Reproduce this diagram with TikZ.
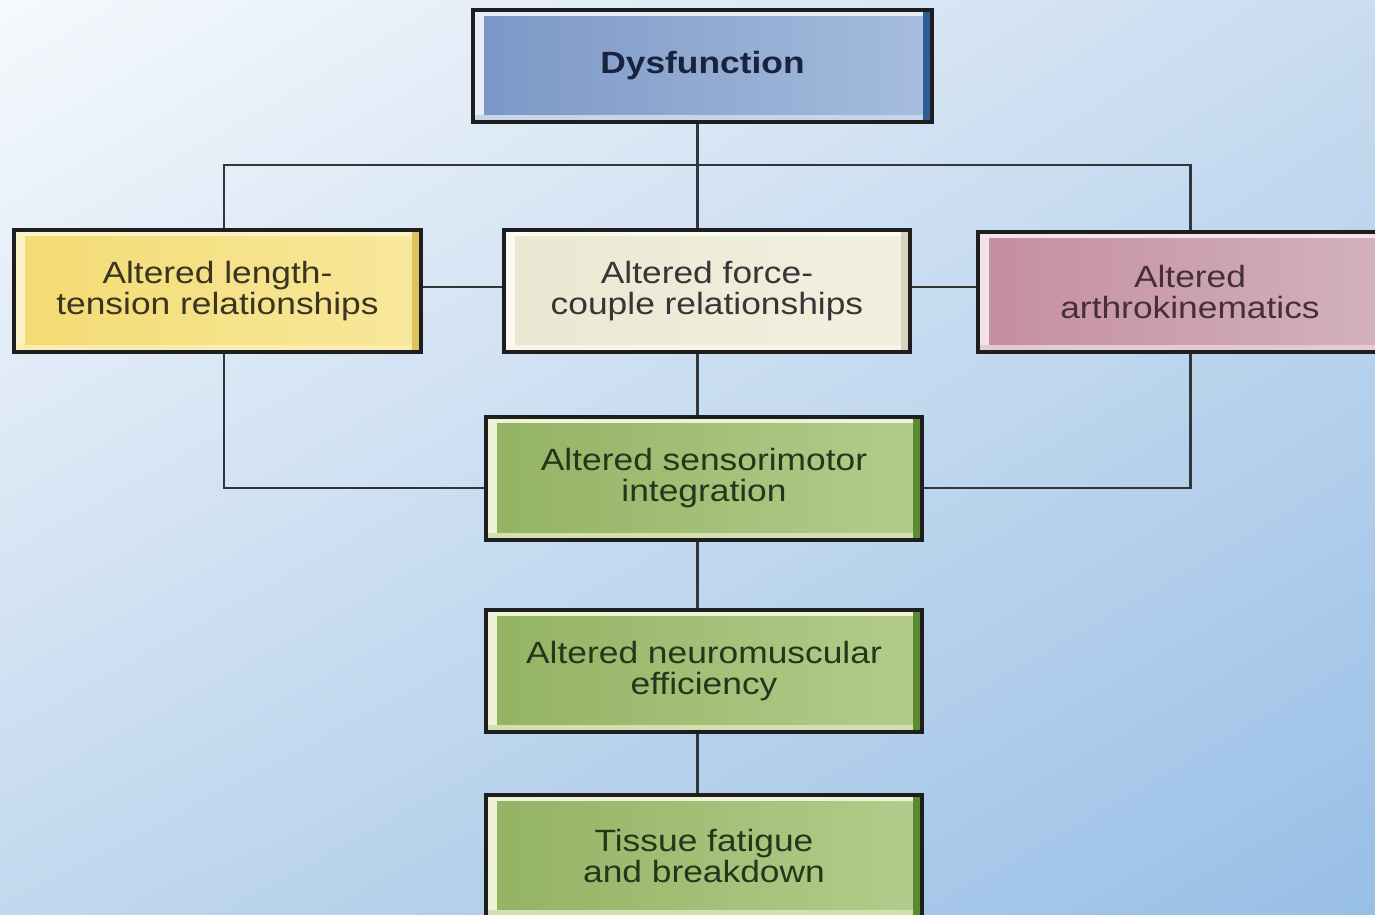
\documentclass[tikz,border=0pt]{standalone}
\usepackage{fontspec}
\usetikzlibrary{shadings}
\setmainfont{Liberation Sans}[FakeStretch=1.15]
% panel colours: body left, body right, highlight, shade, text
\definecolor{dysA}{HTML}{7B97C6}\definecolor{dysB}{HTML}{A6BDDD}
\definecolor{dysH}{HTML}{E8EEF8}\definecolor{dysS}{HTML}{2D5D94}\definecolor{dysT}{HTML}{18243F}
\definecolor{yelA}{HTML}{F3DB72}\definecolor{yelB}{HTML}{F8E89C}
\definecolor{yelH}{HTML}{FBF3C8}\definecolor{yelS}{HTML}{DDC25E}\definecolor{yelT}{HTML}{3A3420}
\definecolor{begA}{HTML}{EAE8D2}\definecolor{begB}{HTML}{F1F0E0}
\definecolor{begH}{HTML}{FAFAF0}\definecolor{begS}{HTML}{D6D4BE}\definecolor{begT}{HTML}{363636}
\definecolor{pnkA}{HTML}{C48E9E}\definecolor{pnkB}{HTML}{D4B3BF}
\definecolor{pnkH}{HTML}{F3E3E9}\definecolor{pnkS}{HTML}{A97484}\definecolor{pnkT}{HTML}{45303A}
\definecolor{grnA}{HTML}{93B363}\definecolor{grnB}{HTML}{B3CC8C}
\definecolor{grnH}{HTML}{EEF2D6}\definecolor{grnS}{HTML}{5B8A30}\definecolor{grnT}{HTML}{25361A}
\definecolor{edge}{HTML}{1E1E1E}
\definecolor{wire}{HTML}{333638}
% backdrop corners
\definecolor{bgUL}{HTML}{F6F9FD}\definecolor{bgUR}{HTML}{C9DCF0}
\definecolor{bgLL}{HTML}{C2D8EE}\definecolor{bgLR}{HTML}{98BFE6}
\begin{document}
\begin{tikzpicture}[x=0.02cm,y=-0.02cm,
  panel/.style n args={5}{draw=edge, line width=1.8pt, left color=#1, right color=#2,
    inner sep=0pt, align=center, text=#5, font=\fontsize{17.5}{17.6}\selectfont,
    path picture={
      \fill[#3] (path picture bounding box.north west) rectangle ([xshift=6pt]path picture bounding box.south west);
      \fill[#3] (path picture bounding box.north west) rectangle ([yshift=-3.5pt]path picture bounding box.north east);
      \fill[#4] ([xshift=-5pt]path picture bounding box.north east) rectangle (path picture bounding box.south east);
      \fill[#3!50!#2] ([yshift=4pt]path picture bounding box.south west) rectangle ([xshift=-5pt]path picture bounding box.south east);
    }},
  link/.style={draw=wire, line width=1.7pt}]
\useasboundingbox (0,0) rectangle (1375,915);
\clip (0,0) rectangle (1375,915);
% backdrop
\shade[upper left=bgUL, upper right=bgUR, lower left=bgLL, lower right=bgLR]
  (0,0) rectangle (1375,915);

% boxes
\node[panel={dysA}{dysB}{dysH}{dysS}{dysT}, minimum width=9.18cm, minimum height=2.24cm]
  (dys) at (702.5,66) {\textbf{Dysfunction}};
\node[panel={yelA}{yelB}{yelH}{yelS}{yelT}, minimum width=8.14cm, minimum height=2.44cm]
  (left) at (217.5,291) {Altered length-\\tension relationships};
\node[panel={begA}{begB}{begH}{begS}{begT}, minimum width=8.12cm, minimum height=2.44cm]
  (mid) at (707,291) {Altered force-\\couple relationships};
\node[panel={pnkA}{pnkB}{pnkH}{pnkS}{pnkT}, minimum width=8.48cm, minimum height=2.40cm]
  (right) at (1190,292) {Altered\\arthrokinematics};
\node[panel={grnA}{grnB}{grnH}{grnS}{grnT}, minimum width=8.72cm, minimum height=2.46cm]
  (sens) at (704,478.5) {Altered sensorimotor\\integration};
\node[panel={grnA}{grnB}{grnH}{grnS}{grnT}, minimum width=8.72cm, minimum height=2.44cm]
  (neuro) at (704,671) {Altered neuromuscular\\efficiency};
\node[panel={grnA}{grnB}{grnH}{grnS}{grnT}, minimum width=8.72cm, minimum height=2.44cm]
  (tis) at (704,856) {Tissue fatigue\\and breakdown};

% routing guides
\coordinate (spine) at (697,165);
\coordinate (lx) at (224,0);
\coordinate (rx) at (1190,0);
\coordinate (hy) at (0,287);
\coordinate (sy) at (0,488);

% connectors
\draw[link] (spine |- dys.south) -- (spine |- mid.north);
\draw[link] (lx |- left.north) |- (spine) -| (rx |- right.north);
\draw[link] (left.east |- hy) -- (mid.west |- hy);
\draw[link] (mid.east |- hy) -- (right.west |- hy);
\draw[link] (spine |- mid.south) -- (spine |- sens.north);
\draw[link] (lx |- left.south) |- (sens.west |- sy);
\draw[link] (rx |- right.south) |- (sens.east |- sy);
\draw[link] (spine |- sens.south) -- (spine |- neuro.north);
\draw[link] (spine |- neuro.south) -- (spine |- tis.north);
\end{tikzpicture}
\end{document}
